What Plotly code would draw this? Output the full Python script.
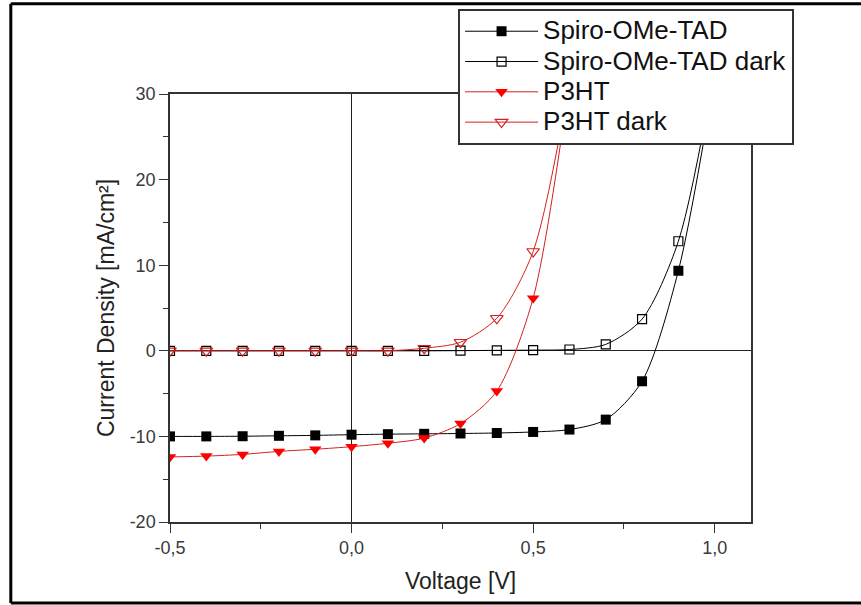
import plotly.graph_objects as go

# ---- data ----
voltage_spiro = [-0.5, -0.4, -0.3, -0.2, -0.1, 0.0, 0.1, 0.2, 0.3, 0.4, 0.5, 0.6, 0.7, 0.8, 0.9, 1.0]
spiro = [-10.0, -10.0, -9.98, -9.93, -9.88, -9.8, -9.74, -9.7, -9.66, -9.6, -9.48, -9.2, -8.04, -3.56, 9.35, 32.0]
spiro_dark = [0.0, 0.0, 0.0, 0.0, 0.0, 0.0, 0.0, 0.0, 0.02, 0.05, 0.08, 0.15, 0.75, 3.7, 12.8, 33.0]

voltage_p3ht = [-0.5, -0.4, -0.3, -0.2, -0.1, 0.0, 0.1, 0.2, 0.3, 0.4, 0.5, 0.6]
p3ht = [-12.4, -12.3, -12.1, -11.75, -11.5, -11.2, -10.8, -10.2, -8.5, -4.7, 6.15, 31.5]
p3ht_dark = [0.0, 0.0, 0.0, 0.0, 0.0, 0.0, 0.0, 0.3, 1.0, 3.8, 11.6, 31.5]

series_names = ["Spiro-OMe-TAD", "Spiro-OMe-TAD dark", "P3HT", "P3HT dark"]

x_tickvals = [-0.5, 0.0, 0.5, 1.0]
x_ticktext = ["-0,5", "0,0", "0,5", "1,0"]
y_tickvals = [-20, -10, 0, 10, 20, 30]
y_ticktext = ["-20", "-10", "0", "10", "20", "30"]

FONT = "Liberation Sans, Arial, sans-serif"
RED_M = "#ff0000"
RED_L = "#d42020"


def legend_label(s):
    return '<span style="font-size:26px">' + s + '</span>'


fig = go.Figure()
fig.add_trace(go.Scatter(
    x=voltage_spiro, y=spiro, name=legend_label(series_names[0]), mode="lines+markers",
    line=dict(color="black", width=1, shape="spline", smoothing=0.8),
    marker=dict(symbol="square", size=10, color="black", line=dict(color="black", width=0)),
))
fig.add_trace(go.Scatter(
    x=voltage_spiro, y=spiro_dark, name=legend_label(series_names[1]), mode="lines+markers",
    line=dict(color="black", width=1, shape="spline", smoothing=0.8),
    marker=dict(symbol="square-open", size=9, color="black", line=dict(width=1.2)),
))
fig.add_trace(go.Scatter(
    x=voltage_p3ht, y=p3ht, name=legend_label(series_names[2]), mode="lines+markers",
    line=dict(color=RED_L, width=1, shape="spline", smoothing=0.8),
    marker=dict(symbol="triangle-down", size=11, color=RED_M, line=dict(width=0)),
))
fig.add_trace(go.Scatter(
    x=voltage_p3ht, y=p3ht_dark, name=legend_label(series_names[3]), mode="lines+markers",
    line=dict(color=RED_L, width=1, shape="spline", smoothing=0.8),
    marker=dict(symbol="triangle-down-open", size=11, color=RED_L, line=dict(width=1.2)),
))

axis_common = dict(
    showline=True, linecolor="#333333", linewidth=1.5, mirror=True,
    ticks="outside", ticklen=9, tickwidth=1.2, tickcolor="#333333",
    showgrid=False, zeroline=True, zerolinecolor="#222222", zerolinewidth=1,
    tickfont=dict(family=FONT, size=18, color="#3a3a3a"),
    automargin=False,
)

fig.update_xaxes(
    range=[-0.5, 1.1], tickmode="array", tickvals=x_tickvals, ticktext=x_ticktext,
    minor=dict(tickmode="linear", tick0=-0.5, dtick=0.25, ticks="outside", ticklen=5,
               tickcolor="#333333", tickwidth=1.2, showgrid=False),
    title=dict(text="Voltage [V]", font=dict(family=FONT, size=23, color="#222222"), standoff=16),
    **axis_common,
)
fig.update_yaxes(
    range=[-20, 30], tickmode="array", tickvals=y_tickvals, ticktext=y_ticktext,
    minor=dict(tickmode="linear", tick0=-20, dtick=5, ticks="outside", ticklen=5,
               tickcolor="#333333", tickwidth=1.2, showgrid=False),
    title=dict(text="Current Density [mA/cm²]", font=dict(family=FONT, size=23, color="#222222"), standoff=9),
    **axis_common,
)

# outer frame of the figure (left, top, bottom edges)
frame = dict(xref="paper", yref="paper", line=dict(color="black", width=3), layer="below")
fig.add_shape(type="line", x0=-0.274, x1=-0.274, y0=-0.189, y1=1.211, **frame)
fig.add_shape(type="line", x0=-0.274, x1=1.6, y0=1.211, y1=1.211, **frame)
fig.add_shape(type="line", x0=-0.274, x1=1.6, y0=-0.189, y1=-0.189, **frame)

fig.update_layout(
    width=861, height=605,
    margin=dict(l=170, r=110, t=94, b=83, autoexpand=False),
    paper_bgcolor="white", plot_bgcolor="white",
    showlegend=True,
    legend=dict(
        x=0.532, y=0.985, xref="container", yref="container",
        xanchor="left", yanchor="top",
        bgcolor="white", bordercolor="#333333", borderwidth=2,
        font=dict(family=FONT, size=21, color="#111111"),
        itemwidth=73, tracegroupgap=0,
    ),
)

fig.write_html("out.html", config={"displayModeBar": False},
               post_script="document.body.style.margin='0';document.body.style.overflow='hidden';")
